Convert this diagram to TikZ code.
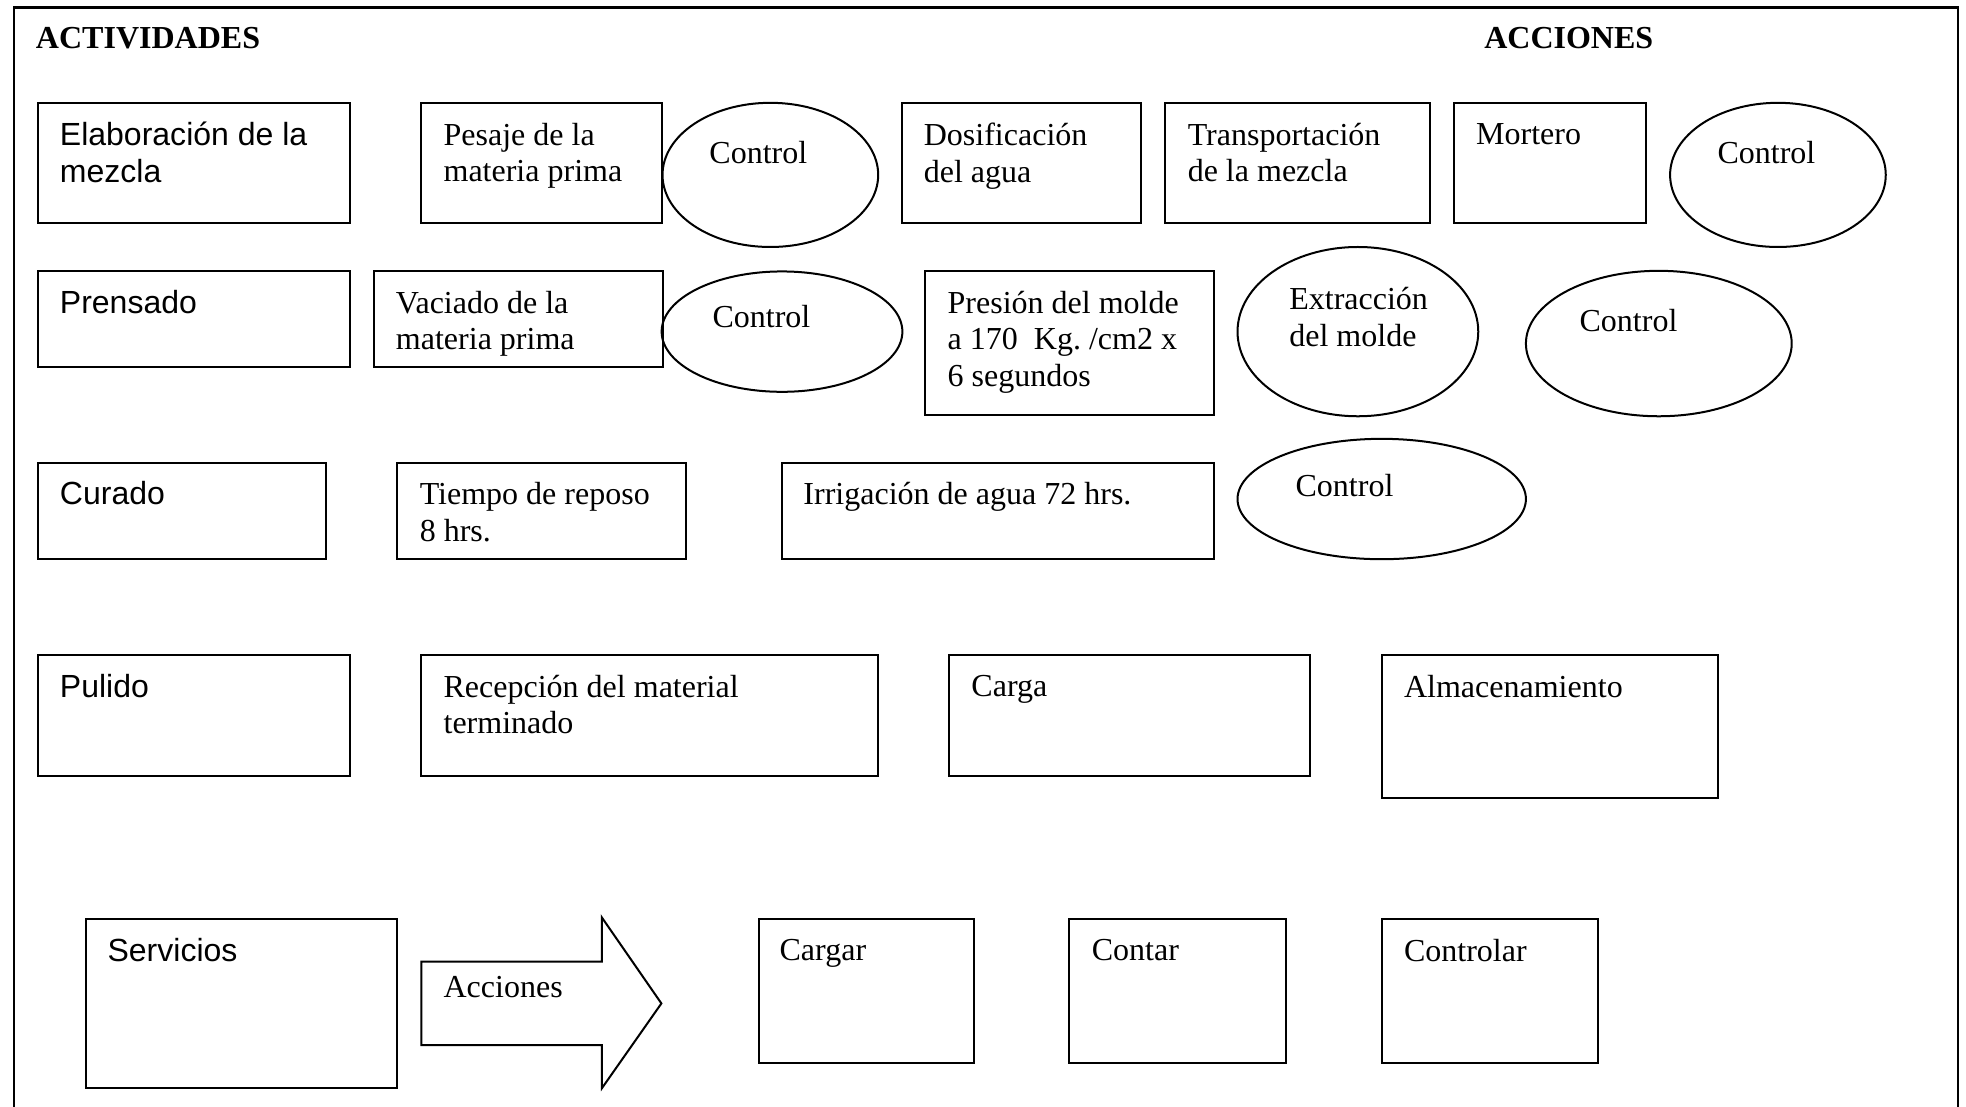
\documentclass[tikz,border=0pt]{standalone}
\usepackage{fontspec}
\setmainfont{Liberation Serif}
\newfontfamily\arialfont{Liberation Sans}
\frenchspacing

\tikzset{every picture/.style={line width=0.75pt}}
\tikzset{
  txt/.style={anchor=north west, inner sep=0pt, align=left, font=\fontsize{12}{13.6}\selectfont},
  arialtxt/.style={txt, font=\arialfont\fontsize{12}{13.6}\selectfont},
  headtxt/.style={txt, font=\fontsize{12}{13.6}\selectfont\bfseries},
}

\begin{document}
\begin{tikzpicture}[x=0.47pt,y=0.47pt,yscale=-1,xscale=1]
\useasboundingbox (0,0) rectangle (1568,882.9);

%Frame
\draw [line width=1pt]  (11.2,882.9) -- (11.2,5.9) -- (1561.5,5.9) -- (1561.5,882.9) ;

% Text Node
\draw (27.9,21.3) node [headtxt] (actividades) {ACTIVIDADES};
% Text Node
\draw (1183,21.3) node [headtxt] (acciones) {ACCIONES};

%Shape: Rectangle
\draw   (30,82) rectangle (279,178) ;
%Shape: Rectangle
\draw   (336,82) rectangle (528,178) ;
%Shape: Ellipse
\draw   (614.4,139.5) ellipse (86 and 57.5) ;
%Shape: Rectangle
\draw   (719,82) rectangle (910,178) ;
%Shape: Rectangle
\draw   (929.5,82) rectangle (1140.5,178) ;
%Shape: Rectangle
\draw   (1159.5,82) rectangle (1312.5,178) ;
%Shape: Ellipse
\draw   (1418,139.5) ellipse (86 and 57.5) ;

% Text Node
\draw (47,96.7) node [arialtxt] (elab) {Elaboración de la\\mezcla};
% Text Node
\draw (353,97.6) node [txt] (pesaje) {Pesaje de la\\materia prima};
% Text Node
\draw (565,111.6) node [txt] (ctrlA) {Control};
% Text Node
\draw (736,97.6) node [txt] (dosif) {Dosificación\\del agua};
% Text Node
\draw (946.5,97.6) node [txt] (transp) {Transportación\\de la mezcla};
% Text Node
\draw (1176.5,97.6) node [txt] (mortero) {Mortero};
% Text Node
\draw (1369,111.6) node [txt] (ctrlB) {Control};

%Shape: Rectangle
\draw   (30,216) rectangle (279,293) ;
%Shape: Rectangle
\draw   (298,216) rectangle (528.5,293) ;
%Shape: Ellipse
\draw   (623.7,264.5) ellipse (96 and 48) ;
%Shape: Rectangle
\draw   (738,216) rectangle (968,331) ;
%Shape: Ellipse
\draw   (1083,264.5) ellipse (96 and 67.5) ;
%Shape: Ellipse
\draw   (1323,274) ellipse (106 and 58) ;

% Text Node
\draw (47,230.7) node [arialtxt] (prens) {Prensado};
% Text Node
\draw (315,231.6) node [txt] (vaciado) {Vaciado de la\\materia prima};
% Text Node
\draw (567.5,242.4) node [txt] (ctrlC) {Control};
% Text Node
\draw (755,231.6) node [txt] (presion) {Presión del molde\\a 170\ \ Kg. /cm2 x\\6 segundos};
% Text Node
\draw (1027.5,228.6) node [txt] (extrac) {Extracción\\del molde};
% Text Node
\draw (1259,245.6) node [txt] (ctrlD) {Control};

%Shape: Rectangle
\draw   (30,369.6) rectangle (260,446) ;
%Shape: Rectangle
\draw   (317,369.6) rectangle (547.5,446) ;
%Shape: Rectangle
\draw   (623.5,369.6) rectangle (968,446) ;
%Shape: Ellipse
\draw   (1102,398) ellipse (115 and 48) ;

% Text Node
\draw (47,383.2) node [arialtxt] (curado) {Curado};
% Text Node
\draw (334,384.1) node [txt] (reposo) {Tiempo de reposo\\8 hrs.};
% Text Node
\draw (640,384.1) node [txt] (irrig) {Irrigación de agua 72 hrs.};
% Text Node
\draw (1032.5,377.6) node [txt] (ctrlE) {Control};

%Shape: Rectangle
\draw   (30,522.4) rectangle (279,618.7) ;
%Shape: Rectangle
\draw   (336,522.4) rectangle (700,618.7) ;
%Shape: Rectangle
\draw   (757,522.4) rectangle (1044.5,618.7) ;
%Shape: Rectangle
\draw   (1102,522.4) rectangle (1370,636.7) ;

% Text Node
\draw (47,536.7) node [arialtxt] (pulido) {Pulido};
% Text Node
\draw (353,537.6) node [txt] (recep) {Recepción del material\\terminado};
% Text Node
\draw (774,537.6) node [txt] (carga) {Carga};
% Text Node
\draw (1119,537.6) node [txt] (almac) {Almacenamiento};

%Shape: Rectangle
\draw   (68.5,733.3) rectangle (317,868) ;
%Shape: Right Arrow
\draw   (336,767) -- (480,767) -- (480,731.7) -- (527.5,800.3) -- (480,868) -- (480,833.6) -- (336,833.6) -- cycle ;
%Shape: Rectangle
\draw   (605,733.3) rectangle (776.5,848) ;
%Shape: Rectangle
\draw   (852.5,733.3) rectangle (1026,848) ;
%Shape: Rectangle
\draw   (1102,733.3) rectangle (1274.5,848) ;

% Text Node
\draw (85,747.4) node [arialtxt] (serv) {Servicios};
% Text Node
\draw (353,777.6) node [txt] (acc) {Acciones};
% Text Node
\draw (621,748.3) node [txt] (cargar) {Cargar};
% Text Node
\draw (870,748.3) node [txt] (contar) {Contar};
% Text Node
\draw (1119,748.3) node [txt] (controlar) {Controlar};

\end{tikzpicture}
\end{document}
